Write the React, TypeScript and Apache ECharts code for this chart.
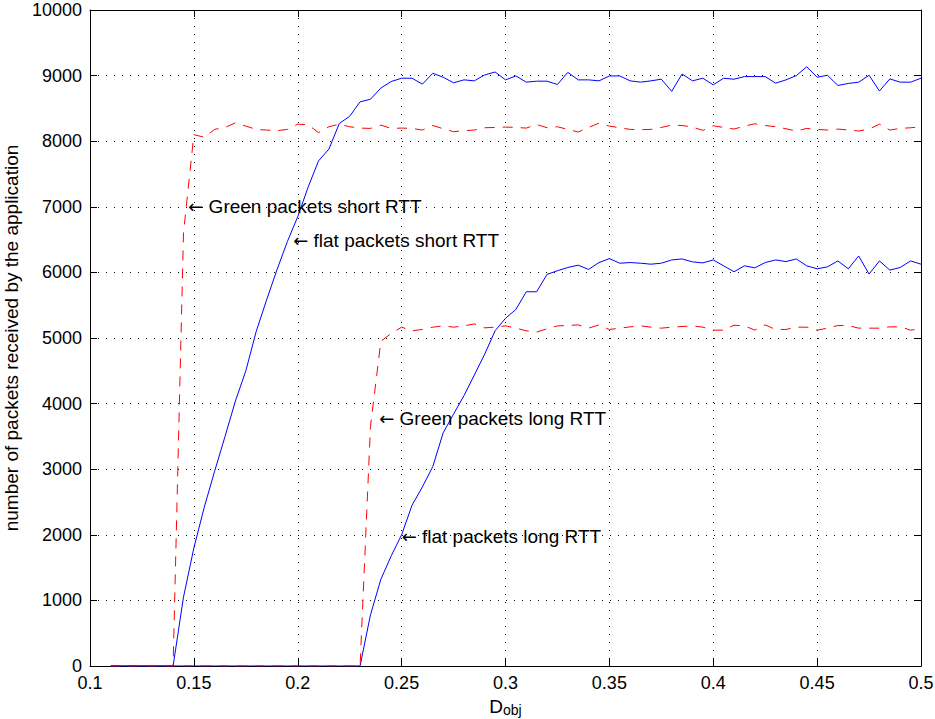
import React, { useEffect, useRef } from 'react';
import * as echarts from 'echarts';

const xValues = [
  0.11, 0.115, 0.12, 0.125, 0.13, 0.135, 0.14, 0.145, 0.15, 0.155,
  0.16, 0.165, 0.17, 0.175, 0.18, 0.185, 0.19, 0.195, 0.2, 0.205,
  0.21, 0.215, 0.22, 0.225, 0.23, 0.235, 0.24, 0.245, 0.25, 0.255,
  0.26, 0.265, 0.27, 0.275, 0.28, 0.285, 0.29, 0.295, 0.3, 0.305,
  0.31, 0.315, 0.32, 0.325, 0.33, 0.335, 0.34, 0.345, 0.35, 0.355,
  0.36, 0.365, 0.37, 0.375, 0.38, 0.385, 0.39, 0.395, 0.4, 0.405,
  0.41, 0.415, 0.42, 0.425, 0.43, 0.435, 0.44, 0.445, 0.45, 0.455,
  0.46, 0.465, 0.47, 0.475, 0.48, 0.485, 0.49, 0.495, 0.5,
];

const flatShort = [
  0, 0, 0, 0, 0, 0, 0,
  1050, 1800, 2420, 2970, 3500, 4040, 4500, 5100, 5580, 6040,
  6470, 6850, 7300, 7700, 7880, 8270, 8380, 8600, 8640, 8810,
  8910, 8960, 8960, 8870, 9035, 8975, 8890, 8935, 8920, 9010,
  9055, 8935, 8995, 8900, 8915, 8915, 8865, 9050, 8935, 8935,
  8920, 8995, 8995, 8920, 8900, 8920, 8945, 8760, 9025, 8920,
  8960, 8860, 8960, 8945, 8985, 8985, 8985, 8885, 8935, 9000,
  9135, 8975, 9005, 8850, 8880, 8900, 9005, 8765, 8950, 8900,
  8900, 8960,
];

const greenShort = [
  0, 0, 0, 0, 0, 0, 0,
  6600, 8100, 8060, 8180, 8210, 8280, 8230, 8180, 8170, 8160,
  8180, 8260, 8250, 8130, 8220, 8260, 8220, 8200, 8195, 8245,
  8195, 8200, 8195, 8170, 8240, 8190, 8145, 8160, 8170, 8205,
  8210, 8215, 8210, 8200, 8255, 8205, 8220, 8180, 8140, 8210,
  8275, 8230, 8205, 8180, 8175, 8180, 8210, 8245, 8240, 8215,
  8165, 8235, 8210, 8185, 8230, 8265, 8240, 8220, 8190, 8155,
  8195, 8180, 8170, 8185, 8170, 8155, 8185, 8260, 8170, 8195,
  8205, 8220,
];

const flatLong = [
  0, 0, 0, 0, 0, 0, 0, 0, 0, 0,
  0, 0, 0, 0, 0, 0, 0, 0, 0, 0,
  0, 0, 0, 0, 0,
  780, 1320, 1680, 2000, 2450, 2730, 3040, 3555, 3840, 4120,
  4435, 4755, 5110, 5300, 5435, 5705, 5705, 5970, 6025, 6075,
  6110, 6045, 6150, 6210, 6140, 6150, 6140, 6125, 6140, 6190,
  6205, 6160, 6145, 6190, 6100, 6010, 6100, 6070, 6150, 6190,
  6165, 6205, 6100, 6055, 6085, 6175, 6055, 6250, 5975, 6175,
  6035, 6075, 6175, 6125,
];

const greenLong = [
  0, 0, 0, 0, 0, 0, 0, 0, 0, 0,
  0, 0, 0, 0, 0, 0, 0, 0, 0, 0,
  0, 0, 0, 0, 0,
  3650, 4950, 5070, 5165, 5110, 5130, 5165, 5185, 5165, 5185,
  5215, 5155, 5165, 5185, 5150, 5110, 5090, 5140, 5185, 5190,
  5200, 5150, 5200, 5130, 5150, 5170, 5185, 5165, 5150, 5165,
  5175, 5185, 5165, 5120, 5120, 5195, 5185, 5120, 5200, 5130,
  5130, 5165, 5165, 5120, 5150, 5190, 5190, 5150, 5150, 5150,
  5170, 5170, 5120, 5140,
];

const annotationTexts = [
  'Green packets short RTT',
  'flat packets short RTT',
  'Green packets long RTT',
  'flat packets long RTT',
];
const annotationX = [0.1473, 0.1978, 0.2392, 0.2500];
const annotationY = [7000, 6480, 3780, 1970];

const X_MIN = 0.1;
const X_MAX = 0.5;
const X_STEP = 0.05;
const Y_MIN = 0;
const Y_MAX = 10000;
const Y_STEP = 1000;

const xTitleMain = 'D';
const xTitleSub = 'obj';
const yTitle = 'number of packets received by the application';

const FONT = '"Liberation Sans", Arial, Helvetica, sans-serif';
const ARROW_FONT = '"DejaVu Sans", sans-serif';

function pairs(values: number[]) {
  return values.map((v, i) => [xValues[i], v]);
}

function annotation(i: number) {
  return {
    coord: [annotationX[i], annotationY[i]],
    symbol: 'circle',
    symbolSize: 0,
    label: {
      show: true,
      position: 'right',
      distance: 0,
      formatter: `{a|\u2190}{t| ${annotationTexts[i]}}`,
      rich: {
        a: { fontSize: 18, fontFamily: ARROW_FONT, color: '#000' },
        t: { fontSize: 19, fontFamily: FONT, color: '#000' },
      },
    },
  };
}

export default function App() {
  const ref = useRef<HTMLDivElement>(null);

  useEffect(() => {
    if (!ref.current) return;
    const chart = echarts.init(ref.current, null, { renderer: 'svg' });

    const axisLine = { show: true, onZero: false, lineStyle: { color: '#000', width: 1 } };
    const tick = { show: true, inside: true, length: 7, lineStyle: { color: '#000', width: 1 } };
    const grid = { show: true, lineStyle: { color: '#000', width: 1, type: [1, 7] } };
    const label = { color: '#000', fontSize: 18, fontFamily: FONT };

    chart.setOption({
      animation: false,
      backgroundColor: '#fff',
      grid: { left: 90, right: 14, top: 10, bottom: 53, containLabel: false, outerBoundsMode: 'none' },
      xAxis: [
        {
          type: 'value', min: X_MIN, max: X_MAX, interval: X_STEP, position: 'bottom',
          axisLine, axisTick: tick, splitLine: grid,
          axisLabel: { ...label, margin: 8, formatter: (v: number) => String(+v.toFixed(3)) },
          name: `{d|${xTitleMain}}{s|${xTitleSub}}`,
          nameLocation: 'middle', nameGap: 30,
          nameTextStyle: {
            color: '#000',
            rich: {
              d: { fontSize: 19, fontFamily: FONT, color: '#000', lineHeight: 20, verticalAlign: 'top' },
              s: { fontSize: 14, fontFamily: FONT, color: '#000', lineHeight: 14, padding: [6, 0, 0, 0], verticalAlign: 'top' },
            },
          },
        },
        {
          type: 'value', min: X_MIN, max: X_MAX, interval: X_STEP, position: 'top',
          axisLine, axisTick: tick, axisLabel: { show: false }, splitLine: { show: false },
        },
      ],
      yAxis: [
        {
          type: 'value', min: Y_MIN, max: Y_MAX, interval: Y_STEP, position: 'left',
          axisLine, axisTick: tick, splitLine: grid,
          axisLabel: { ...label, margin: 8, formatter: (v: number) => String(v) },
          name: yTitle, nameLocation: 'middle', nameGap: 61,
          nameTextStyle: { color: '#000', fontSize: 19, fontFamily: FONT },
        },
        {
          type: 'value', min: Y_MIN, max: Y_MAX, interval: Y_STEP, position: 'right',
          axisLine, axisTick: tick, axisLabel: { show: false }, splitLine: { show: false },
        },
      ],
      series: [
        {
          name: 'flat packets short RTT', type: 'line', data: pairs(flatShort),
          showSymbol: false, symbol: 'none',
          lineStyle: { color: '#0000ff', width: 1 },
          markPoint: { data: [annotation(1)] },
        },
        {
          name: 'Green packets short RTT', type: 'line', data: pairs(greenShort),
          showSymbol: false, symbol: 'none',
          lineStyle: { color: '#ff0000', width: 1, type: [10, 8] },
          markPoint: { data: [annotation(0)] },
        },
        {
          name: 'flat packets long RTT', type: 'line', data: pairs(flatLong),
          showSymbol: false, symbol: 'none',
          lineStyle: { color: '#0000ff', width: 1 },
          markPoint: { data: [annotation(3)] },
        },
        {
          name: 'Green packets long RTT', type: 'line', data: pairs(greenLong),
          showSymbol: false, symbol: 'none',
          lineStyle: { color: '#ff0000', width: 1, type: [10, 8] },
          markPoint: { data: [annotation(2)] },
        },
      ],
    });

    return () => chart.dispose();
  }, []);

  return (
    <div
      ref={ref}
      style={{ position: 'absolute', left: 0, top: 0, width: 935, height: 719, background: '#fff' }}
    />
  );
}
